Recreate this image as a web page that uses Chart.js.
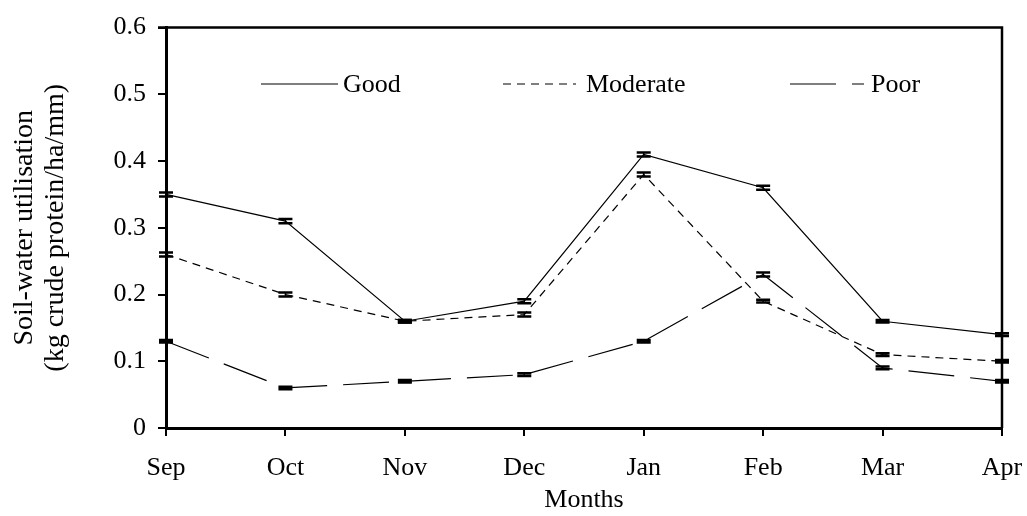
<!DOCTYPE html>
<html>
<head>
<meta charset="utf-8">
<script src="https://cdn.jsdelivr.net/npm/chart.js@4"></script>
<style>
	body { margin: 0; background: #fff; }
	canvas { display: block; }
</style>
</head>
<body>
<canvas id="chart" width="1027" height="516"></canvas>
<script>
// data
const months = ["Sep", "Oct", "Nov", "Dec", "Jan", "Feb", "Mar", "Apr"];
const good = [0.35, 0.31, 0.16, 0.19, 0.41, 0.36, 0.16, 0.14];
const moderate = [0.26, 0.20, 0.16, 0.17, 0.38, 0.19, 0.11, 0.10];
const poor = [0.13, 0.06, 0.07, 0.08, 0.13, 0.23, 0.09, 0.07];
const goodErr = [0.003, 0.003, 0.002, 0.003, 0.003, 0.003, 0.002, 0.002];
const moderateErr = [0.003, 0.003, 0.002, 0.003, 0.003, 0.002, 0.002, 0.002];
const poorErr = [0.002, 0.002, 0.002, 0.002, 0.002, 0.003, 0.002, 0.002];
const yTicks = [0, 0.1, 0.2, 0.3, 0.4, 0.5, 0.6];

const FONT = "'Liberation Serif', 'Times New Roman', serif";

// small caps at each point, value +/- err
const errorBars = {
	id: "errorBars",
	afterDatasetsDraw(chart) {
		const ctx = chart.ctx;
		const yScale = chart.scales.y;
		ctx.save();
		ctx.strokeStyle = "#000";
		chart.data.datasets.forEach((ds, i) => {
			const meta = chart.getDatasetMeta(i);
			meta.data.forEach((pt, j) => {
				const e = ds.errors[j];
				const yTop = yScale.getPixelForValue(ds.data[j] + e);
				const yBot = yScale.getPixelForValue(ds.data[j] - e);
				const x = pt.x;
				ctx.lineWidth = 1.5;
				ctx.beginPath();
				ctx.moveTo(x, yTop);
				ctx.lineTo(x, yBot);
				ctx.stroke();
				ctx.lineWidth = 2.5;
				ctx.beginPath();
				ctx.moveTo(x - 7, yTop);
				ctx.lineTo(x + 7, yTop);
				ctx.moveTo(x - 7, yBot);
				ctx.lineTo(x + 7, yBot);
				ctx.stroke();
			});
		});
		ctx.restore();
	}
};

// frame + legend drawn inside the plot
const frameAndLegend = {
	id: "frameAndLegend",
	afterDraw(chart) {
		const ctx = chart.ctx;
		const a = chart.chartArea;
		ctx.save();
		ctx.strokeStyle = "#000";
		ctx.lineWidth = 2.5;
		ctx.beginPath();
		ctx.moveTo(a.left - 8, a.top);
		ctx.lineTo(a.right, a.top);
		ctx.lineTo(a.right, a.bottom);
		ctx.stroke();

		const items = [
			{ label: "Good", dash: [], x0: 261, x1: 338, tx: 343 },
			{ label: "Moderate", dash: [8, 6], x0: 503, x1: 576, tx: 586 },
			{ label: "Poor", dash: [46, 16], x0: 790, x1: 864, tx: 871 }
		];
		const ly = 84;
		ctx.font = "26px " + FONT;
		ctx.textBaseline = "middle";
		ctx.fillStyle = "#000";
		items.forEach(it => {
			ctx.strokeStyle = "#555";
			ctx.lineWidth = 1.3;
			ctx.setLineDash(it.dash);
			ctx.beginPath();
			ctx.moveTo(it.x0, ly);
			ctx.lineTo(it.x1, ly);
			ctx.stroke();
			ctx.setLineDash([]);
			ctx.fillText(it.label, it.tx, ly + 1);
		});
		ctx.restore();
	}
};

function lineSet(label, data, errors, dash) {
	return {
		label: label,
		data: data,
		errors: errors,
		borderColor: "#000",
		borderWidth: 1.2,
		borderDash: dash,
		pointRadius: 0,
		tension: 0,
		fill: false
	};
}

new Chart(document.getElementById("chart"), {
	type: "line",
	data: {
		labels: months,
		datasets: [
			lineSet("Good", good, goodErr, []),
			lineSet("Moderate", moderate, moderateErr, [8, 6]),
			lineSet("Poor", poor, poorErr, [46, 16])
		]
	},
	plugins: [errorBars, frameAndLegend],
	options: {
		responsive: false,
		animation: false,
		layout: { padding: { top: 25, right: 0, left: 0, bottom: 0 } },
		plugins: {
			legend: { display: false },
			tooltip: { enabled: false }
		},
		scales: {
			x: {
				offset: false,
				grid: {
					offset: false,
					drawOnChartArea: false,
					color: "#000",
					lineWidth: 2,
					tickLength: 8
				},
				border: { color: "#000", width: 3 },
				ticks: {
					color: "#000",
					font: { family: FONT, size: 26 },
					padding: 17,
					maxRotation: 0
				},
				title: {
					display: true,
					text: "Months",
					color: "#000",
					font: { family: FONT, size: 26 },
					padding: { top: 0, bottom: 0 }
				},
				afterFit(scale) {
					scale.height = 88;
					scale.paddingLeft = 0;
					scale.paddingRight = 25;
				}
			},
			y: {
				min: 0,
				max: 0.6,
				afterBuildTicks(scale) {
					scale.ticks = yTicks.map(v => ({ value: v }));
				},
				grid: {
					drawOnChartArea: false,
					color: "#000",
					lineWidth: 2,
					tickLength: 8
				},
				border: { color: "#000", width: 3 },
				ticks: {
					color: "#000",
					font: { family: FONT, size: 26 },
					padding: 12,
					callback: v => v === 0 ? "0" : v.toFixed(1)
				},
				title: {
					display: true,
					text: ["Soil-water utilisation", "(kg crude protein/ha/mm)"],
					color: "#000",
					font: { family: FONT, size: 28, lineHeight: 1.1 },
					padding: { top: 9, bottom: 0 }
				},
				afterFit(scale) { scale.width = 166; }
			}
		}
	}
});
</script>
</body>
</html>
